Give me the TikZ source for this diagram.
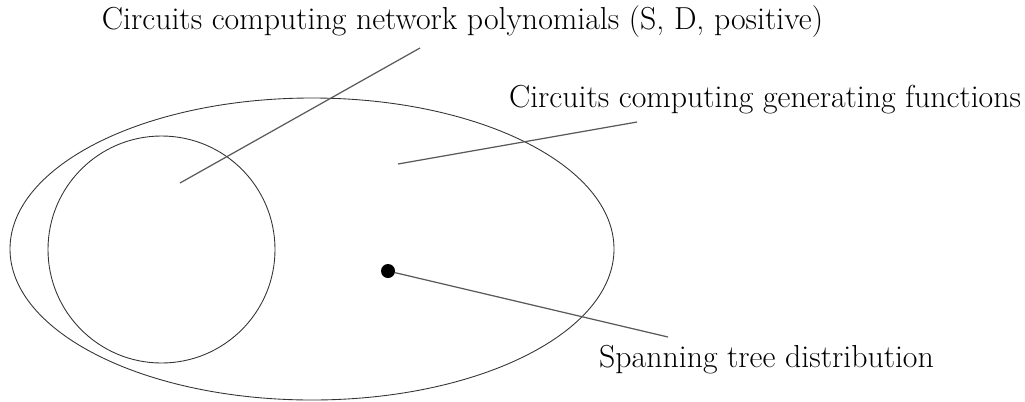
\documentclass[tikz,border=0pt]{standalone}
\begin{document}
\begin{tikzpicture}[
    x=1cm,y=1cm,
    every node/.style={font=\fontsize{18.1}{22}\selectfont},
    set/.style={draw=black!80, line width=0.5pt},
    pointer/.style={draw=black!65, line width=0.7pt},
    dot/.style={circle, fill=black, inner sep=0pt, minimum size=0.28cm}
]
    \useasboundingbox (0,0) rectangle (20.5,-8.02);

    \draw[set] (6.24,-4.98) ellipse [x radius=6.04, y radius=3.02];
    \draw[set] (3.23,-4.99) circle [radius=2.27];

    \node (netpoly) at (9.25,-0.44) {Circuits computing network polynomials (S, D, positive)};
    \node (genfun) at (15.3,-2.0) {Circuits computing generating functions};
    \node (spantree) at (15.33,-7.2) {Spanning tree distribution};

    \coordinate (netin) at (3.6,-3.66);
    \coordinate (netout) at (8.4,-0.96);
    \coordinate (genin) at (7.96,-3.28);
    \coordinate (genout) at (12.74,-2.44);
    \coordinate (spanout) at (13.36,-6.74);
    \node[dot] (tree) at (7.76,-5.42) {};

    \draw[pointer] (netin) -- (netout);
    \draw[pointer] (genin) -- (genout);
    \draw[pointer] (tree) -- (spanout);
\end{tikzpicture}
\end{document}
